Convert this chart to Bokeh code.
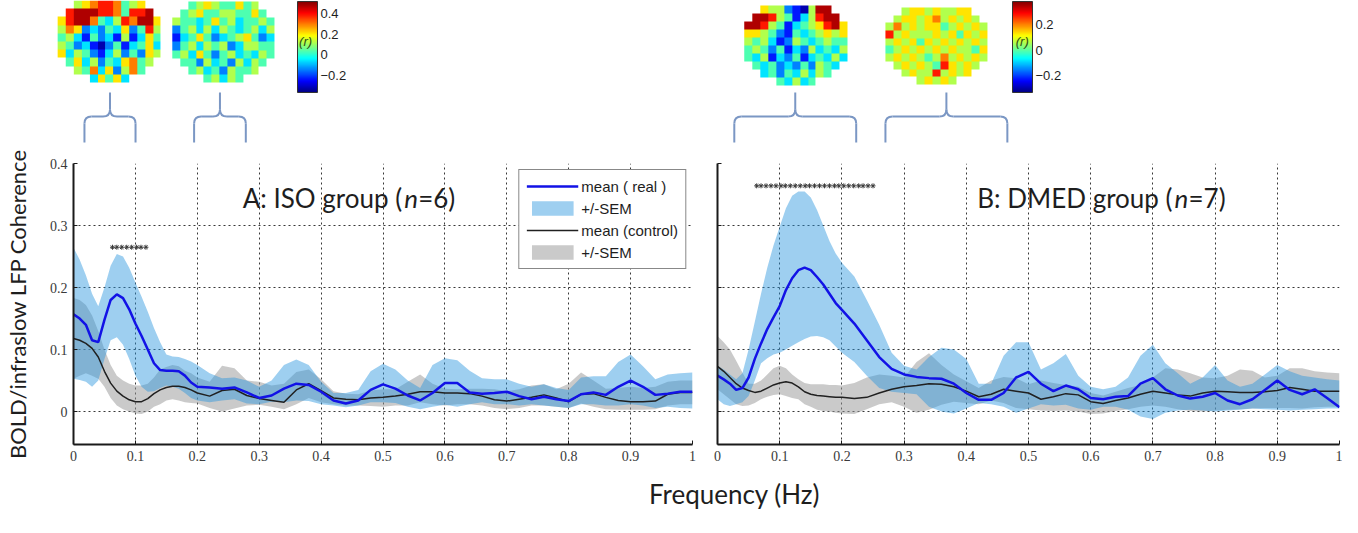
import numpy as np
from bokeh.plotting import figure
from bokeh.layouts import column, row
from bokeh.models import (Range1d, FixedTicker, Legend, LegendItem, ColorBar,
                          LinearColorMapper, ColumnDataSource, CustomJSTickFormatter)
from bokeh.core.properties import value
from bokeh.embed import file_html
from bokeh.resources import INLINE

# ---------------- data ----------------
freq = [0.00, 0.01, 0.02, 0.03, 0.04, 0.05, 0.06, 0.07, 0.08, 0.09, 0.10, 0.11, 0.12, 0.13, 0.14,
        0.15, 0.16, 0.17, 0.18, 0.19, 0.20,
        0.22, 0.24, 0.26, 0.28, 0.30, 0.32, 0.34, 0.36, 0.38, 0.40, 0.42, 0.44, 0.46, 0.48, 0.50,
        0.52, 0.54, 0.56, 0.58, 0.60, 0.62, 0.64, 0.66, 0.68, 0.70, 0.72, 0.74, 0.76, 0.78, 0.80,
        0.82, 0.84, 0.86, 0.88, 0.90, 0.92, 0.94, 0.96, 0.98, 1.00]

# Panel A: ISO group
a_real = [0.157, 0.150, 0.140, 0.115, 0.112, 0.148, 0.180, 0.189, 0.183, 0.165, 0.142, 0.122, 0.100, 0.078, 0.067,
          0.066, 0.066, 0.065, 0.058, 0.047, 0.040,
          0.039, 0.037, 0.039, 0.031, 0.022, 0.026, 0.037, 0.045, 0.043, 0.032, 0.018, 0.013, 0.018, 0.035, 0.044,
          0.037, 0.026, 0.018, 0.030, 0.046, 0.046, 0.031, 0.029, 0.030, 0.032, 0.025, 0.020, 0.024, 0.020, 0.017,
          0.028, 0.031, 0.027, 0.040, 0.050, 0.040, 0.027, 0.029, 0.032, 0.032]
a_real_hi = [0.264, 0.245, 0.220, 0.190, 0.170, 0.200, 0.235, 0.254, 0.250, 0.232, 0.208, 0.185, 0.161, 0.135, 0.112,
             0.092, 0.089, 0.088, 0.085, 0.081, 0.075,
             0.062, 0.054, 0.055, 0.050, 0.040, 0.050, 0.075, 0.084, 0.075, 0.048, 0.030, 0.030, 0.035, 0.065, 0.077,
             0.068, 0.050, 0.038, 0.075, 0.086, 0.083, 0.066, 0.054, 0.052, 0.052, 0.045, 0.040, 0.044, 0.038, 0.035,
             0.055, 0.057, 0.057, 0.080, 0.092, 0.073, 0.052, 0.060, 0.062, 0.063]
a_real_lo = [0.053, 0.051, 0.048, 0.040, 0.050, 0.085, 0.115, 0.120, 0.108, 0.085, 0.058, 0.040, 0.032, 0.033, 0.038,
             0.042, 0.040, 0.037, 0.030, 0.022, 0.018,
             0.015, 0.018, 0.020, 0.013, 0.012, 0.016, 0.015, 0.018, 0.017, 0.012, 0.010, 0.007, 0.010, 0.015, 0.015,
             0.014, 0.008, 0.004, 0.008, 0.011, 0.008, 0.012, 0.015, 0.012, 0.012, 0.010, 0.012, 0.010, 0.008, 0.006,
             0.012, 0.012, 0.010, 0.010, 0.012, 0.010, 0.006, 0.008, 0.006, 0.005]
a_ctrl = [0.118, 0.115, 0.110, 0.102, 0.088, 0.065, 0.046, 0.033, 0.025, 0.019, 0.016, 0.016, 0.021, 0.029, 0.035,
          0.039, 0.041, 0.041, 0.039, 0.035, 0.030,
          0.025, 0.034, 0.036, 0.026, 0.021, 0.018, 0.015, 0.035, 0.045, 0.034, 0.022, 0.020, 0.019, 0.022, 0.023,
          0.025, 0.028, 0.032, 0.032, 0.030, 0.030, 0.029, 0.025, 0.019, 0.017, 0.020, 0.023, 0.027, 0.022, 0.016,
          0.028, 0.029, 0.023, 0.018, 0.016, 0.016, 0.017, 0.028, 0.031, 0.031]
a_ctrl_hi = [0.183, 0.180, 0.172, 0.155, 0.130, 0.100, 0.075, 0.058, 0.050, 0.045, 0.042, 0.042, 0.045, 0.055, 0.068,
             0.072, 0.075, 0.073, 0.066, 0.062, 0.055,
             0.048, 0.074, 0.070, 0.050, 0.048, 0.042, 0.045, 0.064, 0.068, 0.052, 0.033, 0.029, 0.028, 0.034, 0.036,
             0.036, 0.048, 0.060, 0.045, 0.037, 0.036, 0.037, 0.037, 0.036, 0.033, 0.036, 0.042, 0.044, 0.036, 0.045,
             0.063, 0.050, 0.037, 0.038, 0.040, 0.038, 0.040, 0.048, 0.050, 0.050]
a_ctrl_lo = [0.053, 0.058, 0.062, 0.058, 0.053, 0.040, 0.022, 0.010, 0.004, 0.000, -0.003, -0.004, 0.000, 0.008, 0.012,
             0.018, 0.020, 0.018, 0.015, 0.014, 0.013,
             0.006, 0.000, 0.005, 0.010, 0.011, 0.008, 0.004, 0.012, 0.022, 0.015, 0.012, 0.010, 0.010, 0.009, 0.008,
             0.010, 0.010, 0.015, 0.012, 0.010, 0.012, 0.012, 0.010, 0.006, 0.004, 0.006, 0.010, 0.010, 0.008, 0.006,
             0.013, 0.008, 0.004, 0.003, 0.003, 0.003, 0.004, 0.010, 0.012, 0.012]

# Panel B: DMED group
b_real = [0.058, 0.052, 0.045, 0.035, 0.038, 0.055, 0.085, 0.110, 0.133, 0.152, 0.170, 0.196, 0.215, 0.228, 0.232,
          0.228, 0.217, 0.205, 0.190, 0.175, 0.164,
          0.142, 0.115, 0.088, 0.069, 0.060, 0.056, 0.054, 0.053, 0.045, 0.030, 0.019, 0.019, 0.030, 0.055, 0.064,
          0.045, 0.033, 0.042, 0.036, 0.022, 0.020, 0.024, 0.025, 0.045, 0.054, 0.036, 0.026, 0.021, 0.024, 0.030,
          0.018, 0.012, 0.020, 0.035, 0.050, 0.035, 0.028, 0.036, 0.022, 0.007]
b_real_hi = [0.074, 0.068, 0.060, 0.052, 0.062, 0.100, 0.145, 0.190, 0.232, 0.268, 0.298, 0.328, 0.348, 0.355, 0.355,
             0.345, 0.325, 0.300, 0.275, 0.255, 0.240,
             0.218, 0.180, 0.140, 0.095, 0.074, 0.068, 0.088, 0.103, 0.100, 0.085, 0.045, 0.045, 0.090, 0.112, 0.112,
             0.068, 0.078, 0.093, 0.058, 0.040, 0.036, 0.040, 0.055, 0.090, 0.108, 0.078, 0.062, 0.045, 0.055, 0.075,
             0.050, 0.040, 0.045, 0.060, 0.075, 0.065, 0.058, 0.055, 0.052, 0.050]
b_real_lo = [0.020, 0.012, 0.009, 0.012, 0.015, 0.025, 0.050, 0.078, 0.086, 0.092, 0.095, 0.100, 0.106, 0.112, 0.117,
             0.121, 0.122, 0.120, 0.115, 0.105, 0.095,
             0.080, 0.058, 0.038, 0.032, 0.030, 0.028, 0.008, 0.000, -0.003, 0.005, 0.014, 0.012, 0.008, -0.002, 0.005,
             0.012, 0.010, 0.011, 0.005, 0.003, 0.008, 0.008, 0.003, -0.008, -0.012, -0.002, 0.002, 0.003, 0.002, 0.000,
             0.002, 0.003, 0.005, 0.004, 0.003, 0.002, 0.003, 0.004, 0.005, 0.005]
b_ctrl = [0.073, 0.065, 0.055, 0.045, 0.038, 0.034, 0.031, 0.033, 0.038, 0.043, 0.046, 0.048, 0.046, 0.040, 0.032,
          0.028, 0.026, 0.025, 0.024, 0.023, 0.023,
          0.021, 0.023, 0.030, 0.036, 0.040, 0.042, 0.045, 0.044, 0.040, 0.033, 0.024, 0.028, 0.036, 0.033, 0.030,
          0.020, 0.024, 0.029, 0.027, 0.016, 0.013, 0.018, 0.022, 0.028, 0.033, 0.030, 0.027, 0.025, 0.030, 0.033,
          0.032, 0.031, 0.031, 0.032, 0.034, 0.039, 0.036, 0.033, 0.033, 0.033]
b_ctrl_hi = [0.122, 0.112, 0.100, 0.082, 0.063, 0.045, 0.045, 0.050, 0.060, 0.070, 0.074, 0.070, 0.060, 0.052, 0.046,
             0.044, 0.044, 0.044, 0.043, 0.043, 0.042,
             0.046, 0.055, 0.060, 0.058, 0.055, 0.080, 0.094, 0.075, 0.060, 0.049, 0.038, 0.050, 0.056, 0.054, 0.044,
             0.050, 0.046, 0.043, 0.040, 0.030, 0.026, 0.032, 0.038, 0.043, 0.055, 0.070, 0.068, 0.062, 0.055, 0.054,
             0.058, 0.068, 0.066, 0.055, 0.058, 0.070, 0.070, 0.065, 0.063, 0.062]
b_ctrl_lo = [0.036, 0.028, 0.020, 0.012, 0.009, 0.010, 0.014, 0.020, 0.024, 0.027, 0.028, 0.025, 0.022, 0.020, 0.012,
             0.008, 0.003, 0.001, 0.000, -0.002, -0.003,
             -0.004, 0.004, 0.012, 0.015, 0.008, -0.002, 0.003, 0.011, 0.016, 0.014, 0.012, 0.018, 0.014, 0.006, 0.004,
             0.002, 0.001, 0.002, 0.000, -0.004, -0.003, 0.001, 0.004, 0.008, 0.010, 0.008, 0.004, 0.001, 0.000, 0.002,
             0.003, 0.004, 0.005, 0.006, 0.006, 0.006, 0.005, 0.007, 0.008, 0.008]

# significant frequency bins (asterisks)
sig_a = [0.063, 0.070, 0.078, 0.086, 0.094, 0.102, 0.109, 0.117]
sig_b = [0.063, 0.070, 0.078, 0.086, 0.094, 0.102, 0.109, 0.117, 0.125, 0.133, 0.141, 0.148, 0.156,
         0.164, 0.172, 0.180, 0.188, 0.195, 0.203, 0.211, 0.219, 0.227, 0.234, 0.242, 0.250]

# frequency bands summarised by the maps (braces)
bands_a = [(0.024, 0.106), (0.200, 0.283)]
bands_b = [(0.027, 0.223), (0.270, 0.466)]

x_ticks = [0, 0.1, 0.2, 0.3, 0.4, 0.5, 0.6, 0.7, 0.8, 0.9, 1.0]
y_ticks = [0, 0.1, 0.2, 0.3, 0.4]
cbar_a_ticks = [-0.2, 0, 0.2, 0.4]
cbar_b_ticks = [-0.2, 0, 0.2]
cbar_a_range = (-0.37, 0.52)
cbar_b_range = (-0.33, 0.38)

# correlation maps, colour level 0 (lowest r) .. 9 (highest r); '.' outside brain
map_a1 = ["..567887456..",
          ".89998874889.",
          "6899743587996",
          "5762324362485",
          "4531423151364",
          "5423102413463",
          "6354213524265",
          ".46352436745.",
          "..547362574..",
          "....36463...."]
map_a2 = ["..456544645..",
          ".45644554464.",
          "5443464534454",
          "2453535434535",
          "1346423456423",
          "2453545235544",
          "4536424534354",
          ".44253425354.",
          "..453425445..",
          "....45354...."]
map_b1 = ["..655210599..",
          ".99854135899.",
          "9985413456896",
          "6654214345656",
          "5453125434544",
          "4542413253435",
          "4351324134353",
          ".43423242543.",
          "..342435354..",
          "....43534...."]
map_b2 = ["..566565566..",
          ".56656756565.",
          "5756566456565",
          "8565556564656",
          "5656465656565",
          "4565656565546",
          "5656545756565",
          ".56565486565.",
          "..565585656..",
          "....56565...."]

# ---------------- layout constants ----------------
A_W, A_L, A_R = 704, 69, 12
B_W, B_L, B_R = 638, 13, 3
TOP_H, PAN_H, BOT_H = 145, 327, 37
A_FW = A_W - A_L - A_R
B_FW = B_W - B_L - B_R

TXT = "#1e1e1e"
TICK_FONT = "Liberation Sans Narrow"


def jet(n=256):
    cols = []
    for i in range(n):
        t = i / (n - 1)
        r = min(max(1.5 - abs(4 * t - 3), 0), 1)
        g = min(max(1.5 - abs(4 * t - 2), 0), 1)
        b = min(max(1.5 - abs(4 * t - 1), 0), 1)
        cols.append("#%02x%02x%02x" % (int(r * 255), int(g * 255), int(b * 255)))
    return cols


JET = jet()


def grid_from(rows, lo, hi):
    arr = np.full((len(rows), len(rows[0])), np.nan)
    for i, r in enumerate(rows):
        for j, c in enumerate(r):
            if c != ".":
                arr[i, j] = lo + (int(c) + 0.5) / 10.0 * (hi - lo)
    return arr[::-1]


def panel(width, bl, br, real, real_lo, real_hi, ctrl, ctrl_lo, ctrl_hi, sig, sig_y,
          title, nval, title_x, show_ylab, legend):
    p = figure(width=width, height=PAN_H, x_range=Range1d(0, 1), y_range=Range1d(-0.053, 0.4),
               output_backend="svg", toolbar_location=None,
               min_border_left=bl, min_border_right=br, min_border_top=18, min_border_bottom=28)
    p.outline_line_color = None
    p.background_fill_color = "white"
    src = ColumnDataSource(dict(f=freq, real=real, real_lo=real_lo, real_hi=real_hi,
                                ctrl=ctrl, ctrl_lo=ctrl_lo, ctrl_hi=ctrl_hi))
    bc = p.varea(x="f", y1="ctrl_lo", y2="ctrl_hi", source=src, fill_color=(150, 150, 150), fill_alpha=0.5)
    br_ = p.varea(x="f", y1="real_lo", y2="real_hi", source=src, fill_color=(40, 148, 222), fill_alpha=0.45)
    rc = p.line("f", "ctrl", source=src, line_color="#202020", line_width=1.5)
    rr = p.line("f", "real", source=src, line_color="#1212e6", line_width=2.5)
    p.scatter(x=sig, y=[sig_y] * len(sig), marker="asterisk", size=5,
              line_color="#3a3a3a", line_width=1)

    p.xaxis.ticker = FixedTicker(ticks=x_ticks)
    p.yaxis.ticker = FixedTicker(ticks=y_ticks)
    p.xaxis.major_label_overrides = {0: "0", 1: "1"}
    for a in (p.xaxis[0], p.yaxis[0]):
        a.axis_line_color = "#1a1a1a"
        a.axis_line_width = 2
        a.major_tick_in = 4
        a.major_tick_out = 0
        a.major_tick_line_color = "#1a1a1a"
        a.minor_tick_line_color = None
        a.major_label_text_font = TICK_FONT
        a.major_label_text_font_size = "14px"
        a.major_label_text_color = "#3a3a3a"
        a.major_label_standoff = 6
    if show_ylab:
        p.yaxis.major_label_overrides = {0: "0"}
        p.yaxis.axis_label = "BOLD/infraslow LFP Coherence"
        p.yaxis.axis_label_text_font = "Lato"
        p.yaxis.axis_label_text_font_size = "22px"
        p.yaxis.axis_label_text_font_style = "normal"
        p.yaxis.axis_label_text_color = TXT
        p.yaxis.axis_label_standoff = 16
    else:
        p.yaxis.formatter = CustomJSTickFormatter(code="return ''")
    for g in (p.xgrid[0], p.ygrid[0]):
        g.grid_line_color = "#222222"
        g.grid_line_dash = "2 3"
        g.grid_line_width = 1
        g.grid_line_alpha = 0.9

    common = dict(text_font=value("Lato"), text_font_size="26px", text_color=TXT,
                  text_baseline="alphabetic")
    p.text(x=[title_x], y=[0.345], text=[title], text_align="right", **common)
    p.text(x=[title_x], y=[0.345], text=["n"], text_align="left", x_offset=2,
           text_font_style="italic", **common)
    p.text(x=[title_x], y=[0.345], text=[nval], text_align="left", x_offset=16, **common)

    if legend:
        lg = Legend(items=[LegendItem(label="mean ( real )", renderers=[rr]),
                           LegendItem(label="+/-SEM", renderers=[br_]),
                           LegendItem(label="mean (control)", renderers=[rc]),
                           LegendItem(label="+/-SEM", renderers=[bc])],
                    location="top_right", margin=6, padding=7, spacing=4,
                    glyph_width=52, glyph_height=18, label_height=18, label_standoff=3,
                    label_text_font="Liberation Sans", label_text_font_size="15px",
                    label_text_color=TXT, border_line_color="#111111", border_line_width=1.5,
                    background_fill_color="white", background_fill_alpha=1.0)
        p.add_layout(lg)
    return p


def top_strip(width, bl, fw, maps, positions, cmap, cb_ticks, cb_x, r_x, bands):
    p = figure(width=width, height=TOP_H,
               x_range=Range1d(-bl / fw, (width - bl) / fw), y_range=Range1d(0, TOP_H),
               x_axis_type=None, y_axis_type=None, output_backend="svg", toolbar_location=None,
               min_border=0)
    p.outline_line_color = None
    p.background_fill_color = "white"
    for m, (x0, y0, dw, dh) in zip(maps, positions):
        p.image(image=[m], x=x0, y=y0, dw=dw, dh=dh, color_mapper=cmap)
    c = "#7b97c4"
    r = 7.0 / fw
    ybot, yh, ytip = 3, 29, 53
    for f0, f1 in bands:
        fm = (f0 + f1) / 2.0
        p.multi_line(xs=[[f0, f0], [f0 + r, fm - r], [fm, fm], [fm + r, f1 - r], [f1, f1]],
                     ys=[[ybot, yh - 7], [yh, yh], [yh + 7, ytip], [yh, yh], [yh - 7, ybot]],
                     line_color=c, line_width=2)
        p.quadratic(x0=[f0, fm - r, fm + r, f1 - r], y0=[yh - 7, yh, yh, yh],
                    x1=[f0 + r, fm, fm, f1], y1=[yh, yh + 7, yh + 7, yh - 7],
                    cx=[f0, fm, fm, f1], cy=[yh, yh, yh, yh], line_color=c, line_width=2)
    cb = ColorBar(color_mapper=cmap, ticker=FixedTicker(ticks=cb_ticks), orientation="vertical",
                  location=(cb_x, 53), width=20, height=91, padding=0, margin=0,
                  major_tick_line_color=None, minor_tick_line_color=None,
                  bar_line_color="#333333", label_standoff=3,
                  major_label_text_font="Liberation Sans", major_label_text_font_size="13px",
                  major_label_text_color=TXT, major_label_overrides={0: "0"},
                  background_fill_alpha=0, border_line_color=None)
    p.add_layout(cb)
    rt = p.text(x=[r_x], y=[104], text=["(r)"], text_align="center", text_baseline="middle",
                text_font=value("Liberation Sans"), text_font_size="13px", text_font_style="italic",
                text_color="#2f4f14")
    rt.level = "overlay"
    return p


cmA = LinearColorMapper(palette=JET, low=cbar_a_range[0], high=cbar_a_range[1], nan_color=(0, 0, 0, 0))
cmB = LinearColorMapper(palette=JET, low=cbar_b_range[0], high=cbar_b_range[1], nan_color=(0, 0, 0, 0))

topA = top_strip(A_W, A_L, A_FW,
                 [grid_from(map_a1, *cbar_a_range), grid_from(map_a2, *cbar_a_range)],
                 [(-0.019, 63, 0.165, 82), (0.165, 63, 0.164, 81)],
                 cmA, cbar_a_ticks, 297, 0.379, bands_a)
topB = top_strip(B_W, B_L, B_FW,
                 [grid_from(map_b1, *cbar_b_range), grid_from(map_b2, *cbar_b_range)],
                 [(0.043, 60, 0.166, 80), (0.270, 61, 0.164, 77)],
                 cmB, cbar_b_ticks, 308, 0.490, bands_b)

figA = panel(A_W, A_L, A_R, a_real, a_real_lo, a_real_hi, a_ctrl, a_ctrl_lo, a_ctrl_hi,
             sig_a, 0.265, "A: ISO group (", "=6)", 0.531, True, True)
figB = panel(B_W, B_L, B_R, b_real, b_real_lo, b_real_hi, b_ctrl, b_ctrl_lo, b_ctrl_hi,
             sig_b, 0.364, "B: DMED group (", "=7)", 0.7315, False, False)

bot = figure(width=A_W + B_W, height=BOT_H, x_range=Range1d(0, A_W + B_W), y_range=Range1d(0, BOT_H),
             x_axis_type=None, y_axis_type=None, output_backend="svg", toolbar_location=None,
             min_border=0)
bot.outline_line_color = None
bot.text(x=[734], y=[16], text=["Frequency (Hz)"], text_align="center", text_baseline="middle",
         text_font=value("Lato"), text_font_size="26px", text_color=TXT)

layout = column(row(topA, topB), row(figA, figB), bot)
open("out.html", "w").write(file_html(layout, INLINE))
